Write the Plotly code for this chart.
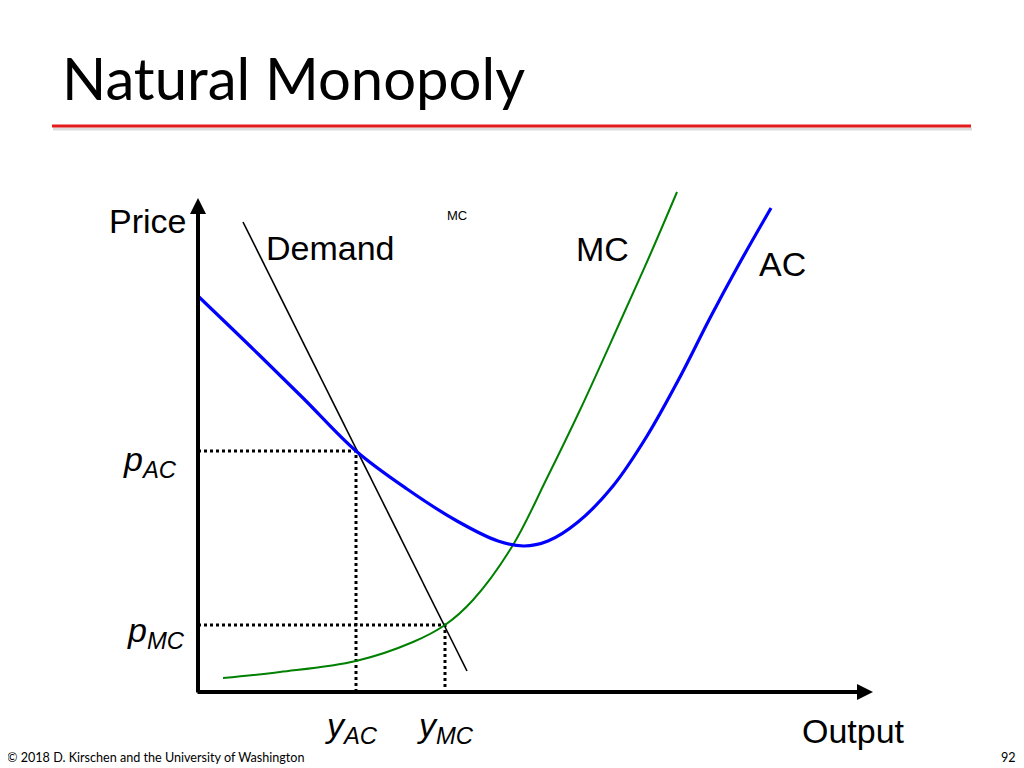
import plotly.graph_objects as go

# average cost curve (output, price)
ac_q = [0.1, 5.3, 10.5, 15.8, 20.9, 25.9, 30.0, 32.6, 35.0, 38.0, 41.5, 44.9, 48.2, 51.2, 54.0, 57.3]
ac_p = [39.5, 34.5, 29.4, 24.1, 20.3, 17.1, 15.1, 14.6, 15.1, 17.0, 20.6, 25.6, 31.5, 37.4, 42.6, 48.4]

# marginal cost curve
mc_q = [2.5, 8.2, 15.8, 21.5, 24.7, 27.5, 31.5, 34.9, 38.2, 42.2, 45.2, 47.9]
mc_p = [1.4, 2.0, 3.1, 5.0, 6.7, 9.2, 14.7, 21.4, 28.2, 37.0, 43.7, 50.0]

# demand line end points
dem_q = [4.5, 26.9]
dem_p = [47.0, 2.1]

# pricing points
y_ac, p_ac = 15.8, 24.1
y_mc, p_mc = 24.7, 6.7

x_max, y_max = 67.5, 49.4

W, H = 1016, 760  # page body has an 8px margin


def px(x):
    return (x - 8) / W


def py(y):
    return 1 - (y - 8) / H


label_font = dict(family="Liberation Sans, Arial, sans-serif", size=34, color="black")

fig = go.Figure()

# dotted guide lines
fig.add_trace(go.Scatter(x=[0, y_ac, y_ac], y=[p_ac, p_ac, 0], mode="lines",
                         line=dict(color="black", width=3, dash="dot")))
fig.add_trace(go.Scatter(x=[0, y_mc, y_mc], y=[p_mc, p_mc, 0], mode="lines",
                         line=dict(color="black", width=3, dash="dot")))

fig.add_trace(go.Scatter(x=dem_q, y=dem_p, mode="lines", line=dict(color="black", width=1.6)))
fig.add_trace(go.Scatter(x=mc_q, y=mc_p, mode="lines",
                         line=dict(color="green", width=2, shape="spline", smoothing=1)))
fig.add_trace(go.Scatter(x=ac_q, y=ac_p, mode="lines",
                         line=dict(color="blue", width=3.2, shape="spline", smoothing=1)))

# axes with arrows
fig.add_annotation(x=0, y=y_max, ax=0, ay=-0.2, xref="x", yref="y", axref="x", ayref="y",
                   showarrow=True, arrowhead=2, arrowsize=0.8, arrowwidth=4, arrowcolor="black", text="")
fig.add_annotation(x=x_max, y=0, ax=-0.2, ay=0, xref="x", yref="y", axref="x", ayref="y",
                   showarrow=True, arrowhead=2, arrowsize=0.8, arrowwidth=4, arrowcolor="black", text="")

# curve and axis labels
labels = [
    ("Price", -5.1, 47.1),
    ("Demand", 13.2, 44.4),
    ("MC", 40.4, 44.3),
    ("AC", 58.4, 42.8),
    ("Output", 65.5, -3.9),
]
for txt, lx, ly in labels:
    fig.add_annotation(x=lx, y=ly, xref="x", yref="y", text=txt, showarrow=False,
                       xanchor="center", yanchor="middle", font=label_font)

fig.add_annotation(x=25.9, y=47.7, xref="x", yref="y", text="MC", showarrow=False,
                   font=dict(family="Liberation Sans, Arial, sans-serif", size=13, color="black"))

# price / quantity labels
fig.add_annotation(x=-1.9, y=p_ac - 1.0, xref="x", yref="y", text="<i>p<sub>AC</sub></i>",
                   showarrow=False, xanchor="right", yanchor="middle", font=label_font)
fig.add_annotation(x=-1.1, y=p_mc - 0.7, xref="x", yref="y", text="<i>p<sub>MC</sub></i>",
                   showarrow=False, xanchor="right", yanchor="middle", font=label_font)
fig.add_annotation(x=y_ac - 0.5, y=-3.5, xref="x", yref="y", text="<i>y<sub>AC</sub></i>",
                   showarrow=False, xanchor="center", yanchor="middle", font=label_font)
fig.add_annotation(x=y_mc, y=-3.5, xref="x", yref="y", text="<i>y<sub>MC</sub></i>",
                   showarrow=False, xanchor="center", yanchor="middle", font=label_font)

# slide title and footer
fig.add_annotation(x=px(60), y=py(78), xref="paper", yref="paper", text="Natural Monopoly",
                   showarrow=False, xanchor="left", yanchor="middle",
                   font=dict(family="Lato, sans-serif", size=58, color="black"))
fig.add_annotation(x=px(6), y=py(757), xref="paper", yref="paper",
                   text="© 2018 D. Kirschen and the University of Washington",
                   showarrow=False, xanchor="left", yanchor="middle", borderpad=0,
                   font=dict(family="Lato, sans-serif", size=12.6, color="black"))
fig.add_annotation(x=px(1017), y=py(757), xref="paper", yref="paper", text="92",
                   showarrow=False, xanchor="right", yanchor="middle", borderpad=0,
                   font=dict(family="Lato, sans-serif", size=12.6, color="black"))

# red rule under the title, with a soft shadow
fig.add_shape(type="line", xref="paper", yref="paper", x0=px(53), x1=px(972),
              y0=py(129), y1=py(129), line=dict(color="#dcdcdc", width=3))
fig.add_shape(type="line", xref="paper", yref="paper", x0=px(52), x1=px(971),
              y0=py(126), y1=py(126), line=dict(color="#e41a1c", width=3))

fig.update_xaxes(range=[-19.0, 82.6], visible=False)
fig.update_yaxes(range=[-7.6, 68.4], visible=False)
fig.update_layout(width=W, height=H, margin=dict(l=0, r=0, t=0, b=0),
                  showlegend=False, plot_bgcolor="white", paper_bgcolor="white")

fig.write_html("out.html")
